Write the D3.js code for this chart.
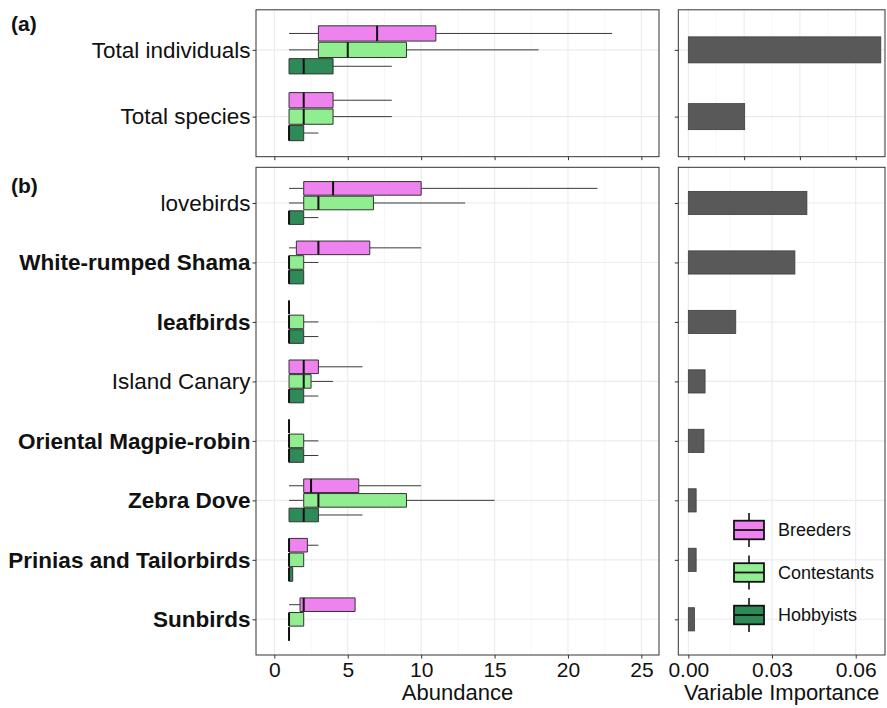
<!DOCTYPE html>
<html>
<head>
<meta charset="utf-8">
<script src="https://cdn.jsdelivr.net/npm/d3@7"></script>
<style>
  body { margin: 0; background: #fff; }
  svg { display: block; font-family: 'Liberation Sans', Arial, sans-serif; }
</style>
</head>
<body>
<div id="chart"></div>
<script>
/* DATA */

const groups = ['Breeders', 'Contestants', 'Hobbyists'];

// box stats are [min, q1, median, q3, max]
const totalsCategories = ['Total individuals', 'Total species'];
const totalsBreeders = [[1, 3, 7, 11, 23], [1, 1, 2, 4, 8]];
const totalsContestants = [[1, 3, 5, 9, 18], [1, 1, 2, 4, 8]];
const totalsHobbyists = [[1, 1, 2, 4, 8], [1, 1, 1, 2, 3]];
const totalsImportance = [0.069, 0.0202];

const birdCategories = [
  'lovebirds',
  'White-rumped Shama',
  'leafbirds',
  'Island Canary',
  'Oriental Magpie-robin',
  'Zebra Dove',
  'Prinias and Tailorbirds',
  'Sunbirds',
];
const birdBreeders = [
  [1, 2, 4, 10, 22], [1, 1.5, 3, 6.5, 10], [1, 1, 1, 1, 1], [1, 1, 2, 3, 6],
  [1, 1, 1, 1, 1], [1, 2, 2.5, 5.75, 10], [1, 1, 1, 2.25, 3], [1, 1.75, 2, 5.5, 5.5],
];
const birdContestants = [
  [1, 2, 3, 6.75, 13], [1, 1, 1, 2, 3], [1, 1, 1, 2, 3], [1, 1, 2, 2.5, 4],
  [1, 1, 1, 2, 3], [1, 2, 3, 9, 15], [1, 1, 1, 2, 2], [1, 1, 1, 2, 2],
];
const birdHobbyists = [
  [1, 1, 1, 2, 3], [1, 1, 1, 2, 2], [1, 1, 1, 2, 3], [1, 1, 1, 2, 3],
  [1, 1, 1, 2, 3], [1, 1, 2, 3, 6], [1, 1, 1, 1.25, 1.25], [1, 1, 1, 1, 1],
];
const birdImportance = [0.0425, 0.0382, 0.017, 0.006, 0.0056, 0.0028, 0.0028, 0.0022];

const boldCategories = [
  'White-rumped Shama', 'leafbirds', 'Oriental Magpie-robin',
  'Zebra Dove', 'Prinias and Tailorbirds', 'Sunbirds',
];

const abundanceTicks = [0, 5, 10, 15, 20, 25];
const abundanceMinor = [2.5, 7.5, 12.5, 17.5, 22.5];
const importanceTicksTop = [0, 0.02, 0.04, 0.06];
const importanceMinorTop = [0.01, 0.03, 0.05, 0.07];
const importanceTicks = [0, 0.03, 0.06];
const importanceMinor = [0.015, 0.045];

/* LAYOUT */

const width = 887;
const height = 708;
const cols = { left: [256, 659], right: [678.3, 885] };
const rows = { top: [9.8, 156.7], bottom: [167.3, 655] };
const fontSize = 21;
const labelSize = 22.5;
const ink = '#111';
const gridMajor = '#ebebeb';
const gridMinor = '#f3f3f3';
const border = '#333';

const xAbund = d3.scaleLinear().domain([-1.25, 26.2]).range(cols.left);
const xImp = d3.scaleLinear().domain([-0.0036, 0.0705]).range(cols.right);

const colors = d3.scaleOrdinal()
  .domain(groups)
  .range(['#ee82ee', '#90ee90', '#2e8b57']);

const svg = d3.select('#chart').append('svg')
  .attr('width', width)
  .attr('height', height)
  .attr('viewBox', [0, 0, width, height]);

/* HELPERS */

const styleAxis = (g) => g
  .call(() => g.select('.domain').remove())
  .call(() => g.selectAll('.tick line').attr('stroke', border))
  .call(() => g.selectAll('.tick text')
    .attr('fill', ink)
    .style('font-size', `${fontSize}px`)
    .style('font-family', "'Liberation Sans', Arial, sans-serif"));

const grid = (g, yScale, x, major, minor, col, row) => {
  g.selectAll('line.minor')
    .data(minor)
    .join('line')
    .attr('class', 'minor')
    .attr('x1', (d) => x(d))
    .attr('x2', (d) => x(d))
    .attr('y1', row[0])
    .attr('y2', row[1])
    .attr('stroke', gridMinor)
    .attr('stroke-width', 0.7);
  g.selectAll('line.vmajor')
    .data(major)
    .join('line')
    .attr('class', 'vmajor')
    .attr('x1', (d) => x(d))
    .attr('x2', (d) => x(d))
    .attr('y1', row[0])
    .attr('y2', row[1])
    .attr('stroke', gridMajor)
    .attr('stroke-width', 1.1);
  g.selectAll('line.hmajor')
    .data(yScale.domain())
    .join('line')
    .attr('class', 'hmajor')
    .attr('x1', col[0])
    .attr('x2', col[1])
    .attr('y1', (d) => yScale(d))
    .attr('y2', (d) => yScale(d))
    .attr('stroke', gridMajor)
    .attr('stroke-width', 1.1);
};

const frame = (g, col, row) => g
  .append('rect')
  .attr('x', col[0])
  .attr('y', row[0])
  .attr('width', col[1] - col[0])
  .attr('height', row[1] - row[0])
  .attr('fill', 'none')
  .attr('stroke', border)
  .attr('stroke-width', 1);

/* PANEL */

const drawRow = (row, categories, series, importance, impTicks, impMinor, showLabels) => {
  const yScale = d3.scalePoint()
    .domain(categories)
    .range(row)
    .padding(0.6);

  const step = yScale.step();
  const dodge = d3.scaleBand()
    .domain(groups)
    .range([-0.36 * step, 0.36 * step])
    .paddingInner(0.07);

  // left: boxplots of abundance
  const left = svg.append('g');
  left.append('g').call((g) => grid(g, yScale, xAbund, abundanceTicks, abundanceMinor, cols.left, row));

  const boxes = categories.flatMap((cat, i) => groups.map((grp, j) => ({
    cat,
    grp,
    s: series[j][i],
  })));

  const box = left.append('g')
    .selectAll('g')
    .data(boxes)
    .join('g')
    .attr('transform', (d) => `translate(0, ${yScale(d.cat) + dodge(d.grp)})`);

  const bh = dodge.bandwidth();

  box.append('path')
    .attr('d', (d) => `M${xAbund(d.s[0])},${bh / 2}H${xAbund(d.s[1])}M${xAbund(d.s[3])},${bh / 2}H${xAbund(d.s[4])}`)
    .attr('stroke', '#3a3a3a')
    .attr('stroke-width', 1)
    .attr('fill', 'none');

  box.append('path')
    .attr('d', (d) => `M${xAbund(d.s[1])},0H${xAbund(d.s[3])}V${bh}H${xAbund(d.s[1])}Z`)
    .attr('fill', (d) => colors(d.grp))
    .attr('stroke', '#333')
    .attr('stroke-width', 1);

  box.append('line')
    .attr('x1', (d) => xAbund(d.s[2]))
    .attr('x2', (d) => xAbund(d.s[2]))
    .attr('y1', 0)
    .attr('y2', bh)
    .attr('stroke', '#111')
    .attr('stroke-width', 2);

  left.append('g')
    .attr('transform', `translate(${cols.left[0]}, 0)`)
    .call(d3.axisLeft(yScale).tickSize(3.5).tickPadding(2))
    .call(styleAxis)
    .call((g) => g.selectAll('.tick text')
      .style('font-size', `${labelSize}px`)
      .style('font-weight', (d) => (boldCategories.includes(d) ? 'bold' : 'normal')));

  left.append('g')
    .attr('transform', `translate(0, ${row[1]})`)
    .call(d3.axisBottom(xAbund)
      .tickValues(abundanceTicks)
      .tickSize(3.5)
      .tickPadding(4)
      .tickFormat(showLabels ? d3.format('d') : () => ''))
    .call(styleAxis);

  frame(left, cols.left, row);

  // right: variable importance bars
  const right = svg.append('g');
  right.append('g').call((g) => grid(g, yScale, xImp, impTicks, impMinor, cols.right, row));

  const barH = 0.39 * step;
  right.append('g')
    .selectAll('rect')
    .data(categories.map((cat, i) => ({ cat, v: importance[i] })))
    .join('rect')
    .attr('x', xImp(0))
    .attr('y', (d) => yScale(d.cat) - barH / 2)
    .attr('width', (d) => xImp(d.v) - xImp(0))
    .attr('height', barH)
    .attr('fill', '#595959')
    .attr('stroke', '#3d3d3d')
    .attr('stroke-width', 0.8);

  right.append('g')
    .attr('transform', `translate(${cols.right[0]}, 0)`)
    .call(d3.axisLeft(yScale).tickSize(3.5).tickFormat(() => ''))
    .call(styleAxis);

  right.append('g')
    .attr('transform', `translate(0, ${row[1]})`)
    .call(d3.axisBottom(xImp)
      .tickValues(impTicks)
      .tickSize(3.5)
      .tickPadding(4)
      .tickFormat(showLabels ? d3.format('.2f') : () => ''))
    .call(styleAxis);

  frame(right, cols.right, row);
};

drawRow(rows.top, totalsCategories,
  [totalsBreeders, totalsContestants, totalsHobbyists],
  totalsImportance, importanceTicksTop, importanceMinorTop, false);

drawRow(rows.bottom, birdCategories,
  [birdBreeders, birdContestants, birdHobbyists],
  birdImportance, importanceTicks, importanceMinor, true);

/* TITLES */

svg.append('text')
  .attr('x', (cols.left[0] + cols.left[1]) / 2)
  .attr('y', 700)
  .attr('text-anchor', 'middle')
  .attr('fill', ink)
  .style('font-size', '22px')
  .text('Abundance');

svg.append('text')
  .attr('x', (cols.right[0] + cols.right[1]) / 2)
  .attr('y', 700)
  .attr('text-anchor', 'middle')
  .attr('fill', ink)
  .style('font-size', '22px')
  .text('Variable Importance');

svg.selectAll('text.tag')
  .data([['(a)', 31], ['(b)', 193]])
  .join('text')
  .attr('class', 'tag')
  .attr('x', 11)
  .attr('y', (d) => d[1])
  .attr('fill', ink)
  .style('font-size', '21px')
  .style('font-weight', 'bold')
  .text((d) => d[0]);

/* LEGEND */

const legend = svg.append('g')
  .attr('transform', 'translate(734, 530)')
  .selectAll('g')
  .data(groups)
  .join('g')
  .attr('transform', (d, i) => `translate(0, ${i * 42.5})`);

legend.append('line')
  .attr('x1', 15)
  .attr('x2', 15)
  .attr('y1', -17)
  .attr('y2', 17)
  .attr('stroke', '#111')
  .attr('stroke-width', 1.6);

legend.append('rect')
  .attr('x', 0)
  .attr('y', -9.3)
  .attr('width', 30)
  .attr('height', 18.6)
  .attr('fill', (d) => colors(d))
  .attr('stroke', '#111')
  .attr('stroke-width', 1.8);

legend.append('line')
  .attr('x1', 0)
  .attr('x2', 30)
  .attr('y1', 0)
  .attr('y2', 0)
  .attr('stroke', '#111')
  .attr('stroke-width', 1.8);

legend.append('text')
  .attr('x', 44)
  .attr('y', 0)
  .attr('dy', '0.35em')
  .attr('fill', ink)
  .style('font-size', '18px')
  .text((d) => d);
</script>
</body>
</html>
